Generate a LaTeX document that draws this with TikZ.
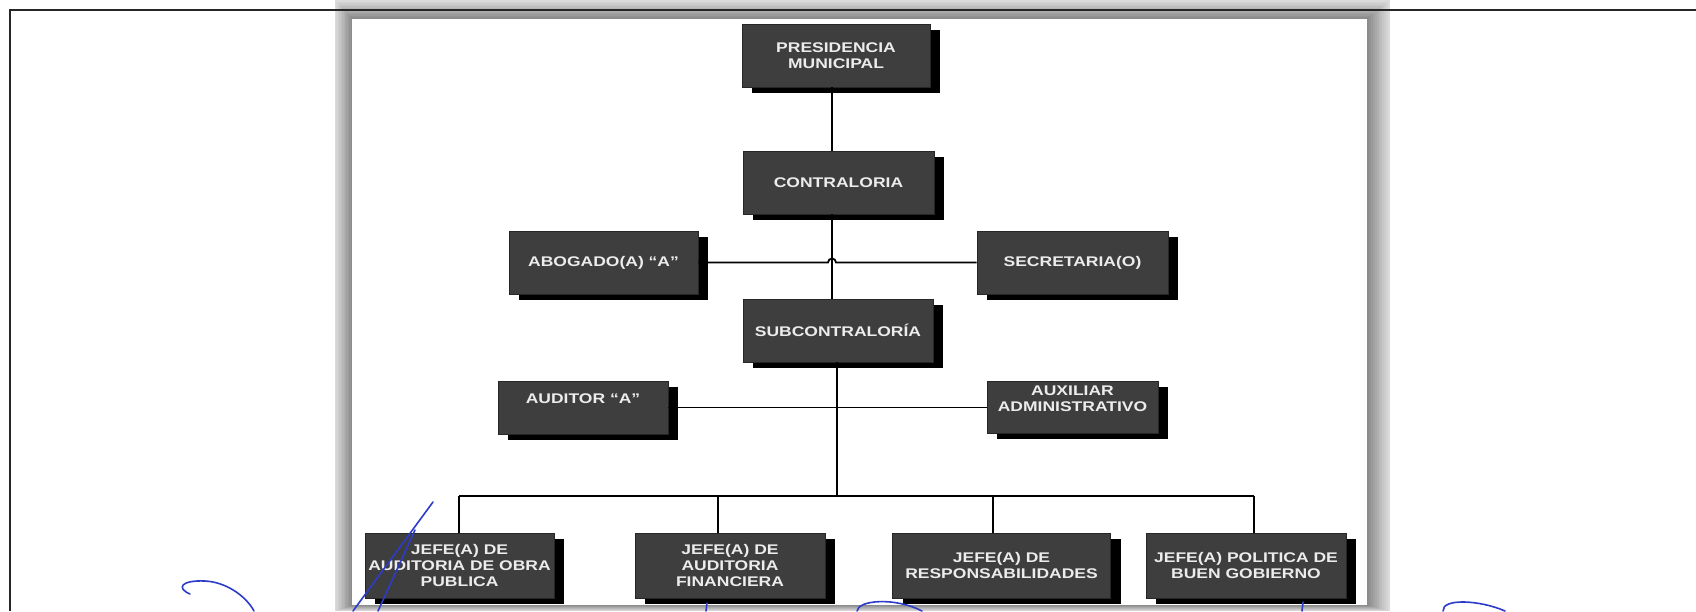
\documentclass[tikz,border=0pt]{standalone}
\usepackage{fontspec}
\newfontfamily\boxfont{Liberation Sans}[FakeStretch=1.25]
\usetikzlibrary{calc}
\definecolor{boxgray}{RGB}{62,62,62}
\definecolor{txtgray}{RGB}{236,236,236}
\definecolor{pen}{RGB}{45,60,200}
\newcommand\liftup[1]{\raisebox{7pt}[\height][\depth]{\begin{tabular}{@{}c@{}}#1\end{tabular}}}
\tikzset{
  org/.style={rectangle, fill=boxgray, draw=black!85, line width=0.8pt, text=txtgray,
    font=\boxfont\bfseries\fontsize{14}{16}\selectfont, align=center, inner sep=0pt,
    preaction={fill=black, transform canvas={shift={(10pt,-6pt)}}}},
  link/.style={draw=black, line width=1.8pt},
  ink/.style={draw=pen, line width=1.6pt, line cap=round, line join=round},
  frameline/.style={draw=black!85, line width=2pt}
}
\begin{document}
\begin{tikzpicture}[x=1pt,y=-1pt]
\useasboundingbox (0,0) rectangle (1696,611);
\fill[white] (0,0) rectangle (1696,611);
% shadowed panel
\foreach \i in {0,...,12}{
  \pgfmathsetmacro\t{\i/12}
  \pgfmathsetmacro\g{14+34*\t}
  \fill[black!\g] ({335+17*\t},{0+19*\t}) rectangle ({1390-23*\t},{611-6*\t});
}
\fill[white] (352,19) rectangle (1367,605);
% outer frame lines
\draw[frameline] (10,611) -- (10,10) -- (1696,10);

% nodes
\node[org, minimum width=188pt, minimum height=63pt] (pres) at (836,55.5) {PRESIDENCIA\\MUNICIPAL};
\node[org, minimum width=191pt, minimum height=63pt] (contr) at (838.5,182.5) {CONTRALORIA};
\node[org, minimum width=189pt, minimum height=63pt] (abog) at (603.5,262.5) {ABOGADO(A) “A”};
\node[org, minimum width=191pt, minimum height=63pt] (secr) at (1072.5,262.5) {SECRETARIA(O)};
\node[org, minimum width=190pt, minimum height=63pt] (subc) at (838,330.5) {SUBCONTRALORÍA};
\node[org, minimum width=170pt, minimum height=53pt] (audi) at (583,407.5) {\liftup{AUDITOR “A”}};
\node[org, minimum width=171pt, minimum height=52pt] (auxi) at (1072.5,407) {\liftup{AUXILIAR\\ADMINISTRATIVO}};
\node[org, minimum width=189pt, minimum height=65pt] (jobra) at (459.5,565.5) {JEFE(A) DE\\AUDITORIA DE OBRA\\PUBLICA};
\node[org, minimum width=190pt, minimum height=65pt] (jfin) at (730,565.5) {JEFE(A) DE\\AUDITORIA\\FINANCIERA};
\node[org, minimum width=218pt, minimum height=65pt] (jresp) at (1001.5,565.5) {JEFE(A) DE\\RESPONSABILIDADES};
\node[org, minimum width=200pt, minimum height=65pt] (jbuen) at (1246,565.5) {JEFE(A) POLITICA DE\\BUEN GOBIERNO};

% helper coordinates
\coordinate (vx) at (832,0);
\coordinate (vx2) at (837,0);
\coordinate (busy) at (0,496);
\coordinate (d1) at (459,496);
\coordinate (d2) at (718,496);
\coordinate (d3) at (993,496);
\coordinate (d4) at (1254,496);

% connectors
\draw[link] (pres.south -| vx) -- (contr.north -| vx);
\draw[link] (contr.south -| vx) -- (subc.north -| vx);
\draw[link] (abog.east) -- ([xshift=-4pt]abog.east -| vx) arc[start angle=180, end angle=360, radius=4] -- (secr.west);
\draw[link] (subc.south -| vx2) -- (vx2 |- busy);
\draw[link] (audi.east) -- (audi.east -| auxi.west);
\draw[link] (d1) -- (d4);
\draw[link] (d1) -- (d1 |- jobra.north);
\draw[link] (d2) -- (d2 |- jfin.north);
\draw[link] (d3) -- (d3 |- jresp.north);
\draw[link] (d4) -- (d4 |- jbuen.north);

% hand-drawn pen marks
\draw[ink] (190,594) .. controls (176,588) and (181,580) .. (205,581) .. controls (226,582) and (246,596) .. (254,611);
\draw[ink] (433,502) -- (353,611);
\draw[ink] (415,530) -- (378,611);
\draw[ink] (707,603) -- (706,611);
\draw[ink] (857,611) .. controls (858,600) and (895,597) .. (922,611);
\draw[ink] (1303,602) -- (1302,611);
\draw[ink] (1443,611) .. controls (1442,598) and (1480,600) .. (1505,611);
\end{tikzpicture}
\end{document}
